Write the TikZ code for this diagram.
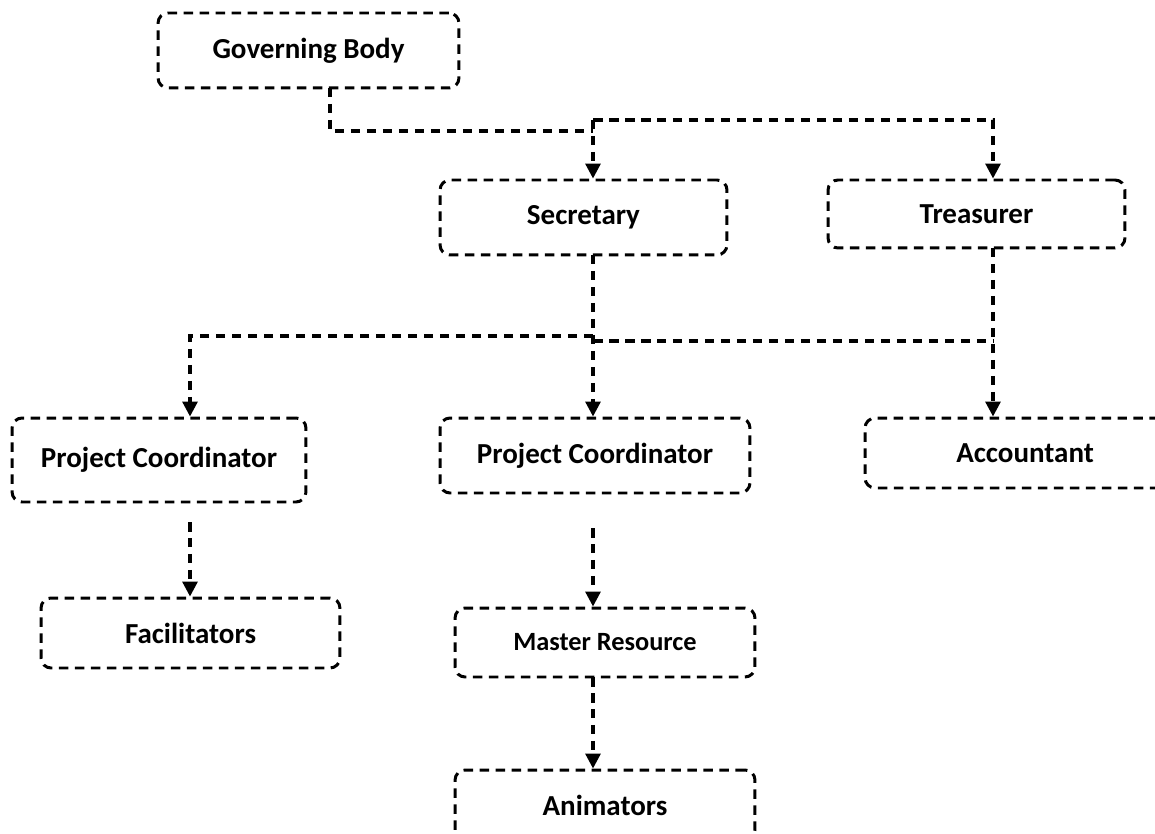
\documentclass[tikz,border=0pt]{standalone}
\usepackage{fontspec}
\setmainfont{Carlito}
\usetikzlibrary{arrows.meta}

\tikzset{
  post/.style={draw, line width=1.7pt, dash pattern=on 0.19cm off 0.13cm,
    rounded corners=0.2cm, font=\bfseries\fontsize{16.5}{18}\selectfont},
  link/.style={line width=1.8pt, dash pattern=on 0.19cm off 0.13cm},
  linkarrow/.style={link, -{Triangle[width=0.3cm, length=0.3cm]}}
}

\begin{document}
\begin{tikzpicture}[x=0.02cm, y=-0.02cm]
  \useasboundingbox (0, 0) rectangle (1155, 834);

  % Governing body
  \node [post, minimum width=6.02cm, minimum height=1.5cm] (gov) at (308.5, 50.5)
    {\raisebox{0.1cm}{Governing Body}};

  % Secretary and treasurer
  \node [post, minimum width=5.74cm, minimum height=1.5cm] (sec) at (583.5, 217.5)
    {Secretary};
  \node [post, minimum width=5.94cm, minimum height=1.36cm] (tre) at (976.5, 214)
    {Treasurer};

  % Coordinators and accountant
  \node [post, minimum width=5.88cm, minimum height=1.68cm] (pcA) at (159, 460)
    {\raisebox{0.12cm}{Project Coordinator}};
  \node [post, minimum width=6.2cm, minimum height=1.5cm] (pcB) at (595, 455.5)
    {Project Coordinator};
  \node [post, minimum width=6.4cm, minimum height=1.4cm] (acc) at (1025, 453)
    {Accountant\hspace{1.12cm}};

  % Lower level
  \node [post, minimum width=5.98cm, minimum height=1.4cm] (fac) at (190.5, 633)
    {Facilitators};
  \node [post, minimum width=6.0cm, minimum height=1.38cm,
    font=\bfseries\fontsize{15}{17}\selectfont] (mres) at (605, 642.5)
    {Master Resource};
  \node [post, minimum width=6.0cm, minimum height=1.4cm] (ani) at (605, 805)
    {Animators};

  % Junctions
  \coordinate (govout) at (330, 88);
  \coordinate (topleft) at (593, 131);
  \coordinate (topright) at (593, 120);
  \coordinate (secout) at (593, 255);
  \coordinate (treout) at (993, 248);
  \coordinate (midleft) at (593, 336);
  \coordinate (midright) at (593, 341);
  \coordinate (pcAout) at (190, 522);
  \coordinate (pcBout) at (593, 528);
  \coordinate (mresout) at (593, 677);

  % Edges
  \draw [link] (govout) |- (topleft);
  \draw [linkarrow] (topright) -- (sec.north -| topright);
  \draw [linkarrow] (topright) -| (tre.north -| treout);
  \draw [linkarrow] (secout) -- (pcB.north -| secout);
  \draw [linkarrow] (midleft) -| (pcA.north -| pcAout);
  \draw [link] (midright) -- (midright -| treout);
  \draw [linkarrow] (treout) -- (acc.north -| treout);
  \draw [linkarrow] (pcAout) -- (fac.north -| pcAout);
  \draw [linkarrow] (pcBout) -- (mres.north -| pcBout);
  \draw [linkarrow] (mresout) -- (ani.north -| mresout);
\end{tikzpicture}
\end{document}
